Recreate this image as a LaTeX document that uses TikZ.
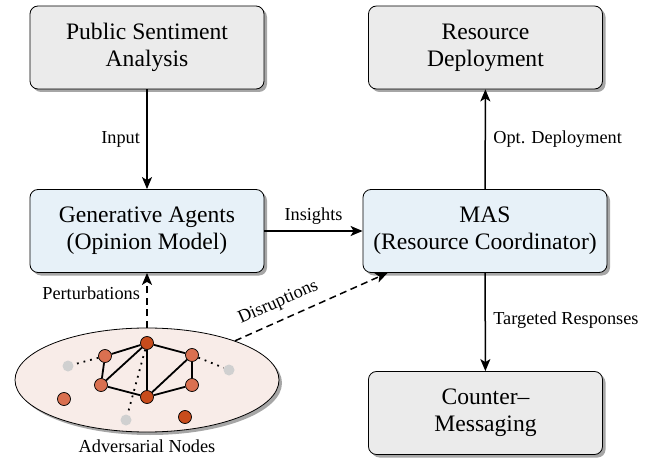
\documentclass[tikz,border=0pt]{standalone}
\usepackage{fontspec}
\setmainfont{Liberation Serif}
\usetikzlibrary{arrows.meta,shapes.geometric,shadows}
\pgfdeclarelayer{bglayer}
\pgfdeclarelayer{edgelayer}
\pgfsetlayers{bglayer,edgelayer,main}
\definecolor{boxgray}{HTML}{EBEBEB}
\definecolor{boxblue}{HTML}{E7F1F8}
\definecolor{ellfill}{HTML}{F8ECE8}
\definecolor{advlight}{HTML}{DA7050}
\definecolor{advdark}{HTML}{C84C1C}
\definecolor{ghostgray}{HTML}{D0D0D0}
\begin{document}
\begin{tikzpicture}[x=1pt,y=-1pt, font=\rmfamily,
  shad/.style={drop shadow={shadow xshift=3pt, shadow yshift=-3pt, fill=black, opacity=0.35}},
  box/.style={draw=black, line width=0.8pt, rounded corners=8pt, minimum width=234pt, minimum height=83pt, align=center, font=\rmfamily\fontsize{23.6}{27}\selectfont, shad},
  graybox/.style={box, fill=boxgray},
  bluebox/.style={box, fill=boxblue},
  arr/.style={line width=1.5pt, -{Stealth[length=12pt,width=10pt,inset=3pt]}},
  darr/.style={arr, dash pattern=on 7pt off 4.5pt},
  lbl/.style={font=\rmfamily\fontsize{18.3}{22}\selectfont},
  adv/.style={circle, draw=black, line width=0.7pt, inner sep=0pt, minimum size=13pt},
  advl/.style={adv, fill=advlight},
  advd/.style={adv, fill=advdark},
  ghost/.style={circle, fill=ghostgray, inner sep=0pt, minimum size=11pt},
  sedge/.style={line width=1.8pt},
  dedge/.style={line width=1.8pt, dash pattern=on 1.8pt off 5pt}
]
\useasboundingbox (0,0) rectangle (657,460);

% boxes
\node[graybox] (psa) at (147,47.5) {Public Sentiment\\Analysis};
\node[bluebox] (gen) at (147,231) {Generative Agents\\(Opinion Model)};
\node[bluebox, minimum width=244pt] (mas) at (485,231) {MAS\\(Resource Coordinator)};
\node[graybox] (dep) at (485.5,47.5) {Resource\\Deployment};
\node[graybox] (cm) at (485.5,413) {Counter--\\Messaging};

% ellipse
\begin{pgfonlayer}{bglayer}
\node[ellipse, draw=black, line width=0.8pt, fill=ellfill, inner sep=0pt, minimum width=264pt, minimum height=104pt, shad] (ell) at (147,380) {};
\end{pgfonlayer}
\node[lbl, anchor=north] (advlbl) at (147,436) {Adversarial Nodes};

% graph nodes
\node[advd] (t) at (147,343) {};
\node[advl] (ul) at (105,356) {};
\node[advl] (ll) at (101,385) {};
\node[advd] (b) at (147,397) {};
\node[advl] (ur) at (192,355) {};
\node[advl] (lr) at (192,385) {};
\node[advl] (i1) at (64,399) {};
\node[advd] (i2) at (185,417) {};
\node[ghost] (g1) at (68,366) {};
\node[ghost] (g2) at (229,370) {};
\node[ghost] (g3) at (126,420) {};

\begin{pgfonlayer}{edgelayer}
\draw[sedge] (t) -- (ul);
\draw[sedge] (t) -- (ur);
\draw[sedge] (t) -- (ll);
\draw[sedge] (t) -- (b);
\draw[sedge] (ul) -- (ll);
\draw[sedge] (ll) -- (b);
\draw[sedge] (b) -- (ur);
\draw[sedge] (b) -- (lr);
\draw[sedge] (ur) -- (lr);
\draw[dedge] (ul) -- (g1);
\draw[dedge] (ur) -- (g2);
\draw[dedge] (t) -- (g3);
\end{pgfonlayer}

% connectors
\draw[arr] (psa) -- node[lbl, left, xshift=-3pt] {Input} (gen);
\draw[arr] (gen) -- node[lbl, above, yshift=2pt] {Insights} (mas);
\draw[arr] (mas) -- node[lbl, right, xshift=4pt] {Opt. Deployment} (dep);
\draw[arr] (mas) -- node[lbl, right, xshift=4pt, pos=0.48] {Targeted Responses} (cm);
\draw[darr] (ell.north) -- node[lbl, left, xshift=-3pt, pos=0.62] {Perturbations} (gen);
\draw[darr] (ell.24.5) -- node[lbl, above, sloped, pos=0.33, yshift=5pt] {Disruptions} ([xshift=25pt]mas.south west);
\end{tikzpicture}
\end{document}
